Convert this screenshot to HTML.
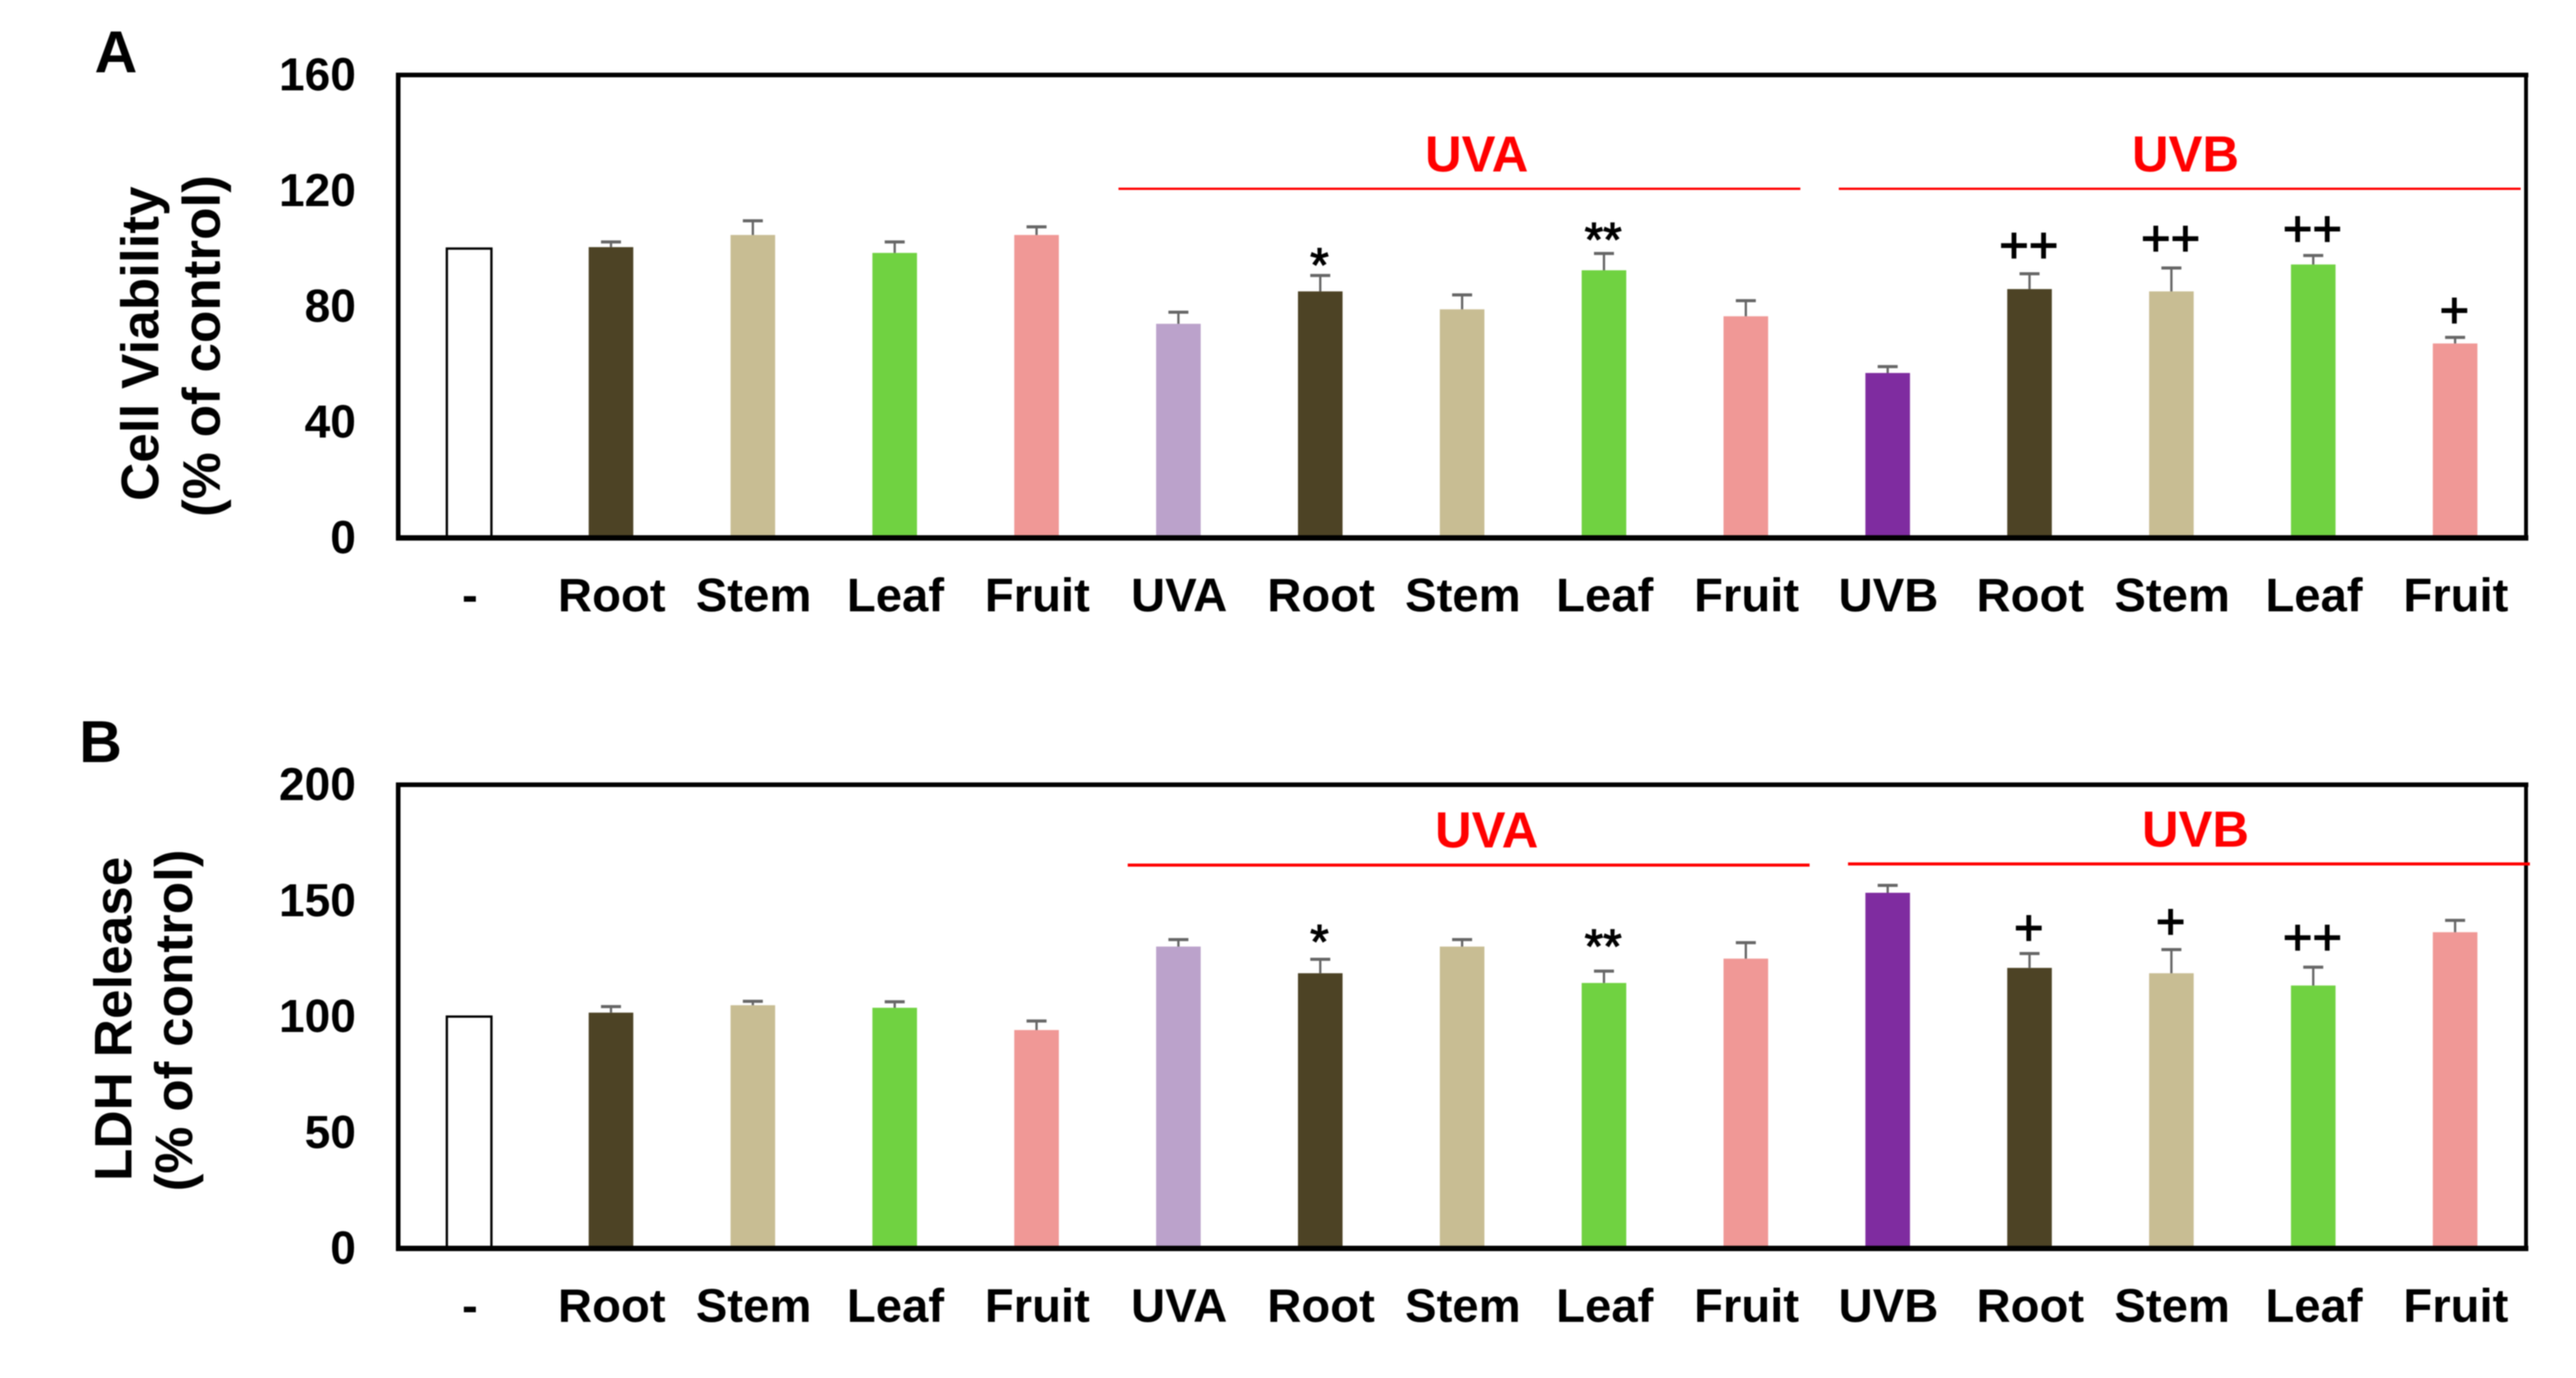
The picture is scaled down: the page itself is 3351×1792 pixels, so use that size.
<!DOCTYPE html>
<html lang="en">
<head>
<meta charset="utf-8">
<title>Cell Viability and LDH Release</title>
<style>
html,body{margin:0;padding:0;background:#fff;width:3351px;height:1792px;overflow:hidden}
svg{display:block;filter:blur(0.8px)}
text{font-family:"Liberation Sans",Arial,sans-serif;font-weight:700;fill:#000}
</style>
</head>
<body>
<svg id="figure" xmlns="http://www.w3.org/2000/svg" width="3351" height="1792" viewBox="0 0 3351 1792">
  <rect x="0" y="0" width="3351" height="1792" fill="#fff"/>
  <text x="123" y="94" font-size="77">A</text>
  <text x="103" y="991" font-size="77">B</text>
  <text transform="translate(206,447) rotate(-90)" text-anchor="middle" font-size="69">Cell Viability</text>
  <text transform="translate(286,450) rotate(-90)" text-anchor="middle" font-size="69">(% of control)</text>
  <text transform="translate(171,1325) rotate(-90)" text-anchor="middle" font-size="69">LDH Release</text>
  <text transform="translate(250,1327) rotate(-90)" text-anchor="middle" font-size="69">(% of control)</text>
  <g id="panel-a"></g>
  <g id="panel-b"></g>
</svg>
<script>
const categories = ['-', 'Root', 'Stem', 'Leaf', 'Fruit', 'UVA', 'Root', 'Stem', 'Leaf', 'Fruit', 'UVB', 'Root', 'Stem', 'Leaf', 'Fruit'];
const barColors = ['#ffffff', '#4d4325', '#c8bd93', '#70d241', '#f09896', '#bba2cb', '#4d4325', '#c8bd93', '#70d241', '#f09896', '#7f2ca0', '#4d4325', '#c8bd93', '#70d241', '#f09896'];

const viabilityTicks = [0, 40, 80, 120, 160];
const viabilityValues = [100, 100.5, 104.7, 98.5, 104.7, 74, 85.2, 79, 92.5, 76.6, 57, 86, 85.2, 94.5, 67.2];
const viabilityErrors = [0, 1.8, 4.9, 3.8, 2.8, 4, 5.5, 5, 5.8, 5.4, 2.2, 5.3, 8.1, 3.1, 2.1];
const viabilityMarks = ['', '', '', '', '', '', '*', '', '**', '', '', '++', '++', '++', '+'];
const viabilityMarkLevels = [0, 0, 0, 0, 0, 0, 98.2, 0, 107, 0, 0, 101.3, 103.7, 107, 78.8];

const ldhTicks = [0, 50, 100, 150, 200];
const ldhValues = [100, 101.7, 104.9, 103.8, 94.2, 130.2, 118.7, 130.2, 114.5, 125, 153.4, 121, 118.7, 113.4, 136.4];
const ldhErrors = [0, 2.6, 1.7, 2.6, 3.9, 3, 6, 3, 5.1, 6.9, 3.2, 6.2, 10.2, 7.9, 5.1];
const ldhMarks = ['', '', '', '', '', '', '*', '', '**', '', '', '+', '+', '++', ''];
const ldhMarkLevels = [0, 0, 0, 0, 0, 0, 137.2, 0, 135.2, 0, 0, 138.5, 141.2, 134.4, 0];

const SVG_NS = 'http://www.w3.org/2000/svg';
const plotLeft = 518;
const plotRight = 3286;
const barWidth = 58;
const capWidth = 26;

function xCenter(i) {
  return plotLeft + (i + 0.5) * (plotRight - plotLeft) / categories.length;
}

function make(parent, tag, attrs, content) {
  const el = document.createElementNS(SVG_NS, tag);
  for (const k in attrs) el.setAttribute(k, attrs[k]);
  if (content !== undefined) el.textContent = content;
  parent.appendChild(el);
  return el;
}

function drawPanel(root, cfg) {
  const yOf = v => cfg.yZero - (v / cfg.maxValue) * (cfg.yZero - cfg.yTop);

  cfg.ticks.forEach(t => {
    const el = make(root, 'text', { x: 463, y: yOf(t) - 1 + 21, 'text-anchor': 'end', 'font-size': 60 }, String(t));
    
    
  });

  cfg.values.forEach((v, i) => {
    const cx = xCenter(i);
    const top = yOf(v);
    const bar = make(root, 'rect', {
      x: cx - barWidth / 2, y: top, width: barWidth, height: cfg.yZero - top,
      fill: barColors[i], stroke: i === 0 ? '#000' : 'none', 'stroke-width': i === 0 ? 3 : 0
    });
    
    

    if (cfg.errors[i] > 0) {
      const errTop = yOf(v + cfg.errors[i]);
      const stem = make(root, 'line', { x1: cx, x2: cx, y1: top, y2: errTop, stroke: '#666', 'stroke-width': 3 });
      
      
      const cap = make(root, 'line', { x1: cx - capWidth / 2, x2: cx + capWidth / 2, y1: errTop, y2: errTop, stroke: '#666', 'stroke-width': 4 });
      
      
    }

    const label = make(root, 'text', { x: cx + 1, y: cfg.labelBaseline, 'text-anchor': 'middle', 'font-size': 61.5 }, categories[i]);
    
    

    if (cfg.marks[i]) {
      const isStar = cfg.marks[i].charAt(0) === '*';
      const shift = isStar ? 36 : 23;
      const mark = make(root, 'text', {
        x: cx - 1, y: yOf(cfg.markLevels[i]) + shift, 'text-anchor': 'middle',
        'font-size': isStar ? 62 : 66
      }, cfg.marks[i]);
      mark.style.fontWeight = '400';
      mark.style.stroke = '#000';
      mark.style.strokeWidth = '1.5px';
      
      
    }
  });

  const frameTop = make(root, 'line', { x1: plotLeft - 3, x2: plotRight + 3, y1: cfg.yTop, y2: cfg.yTop, stroke: '#000', 'stroke-width': 6 });
  
  
  const frameLeft = make(root, 'line', { x1: plotLeft, x2: plotLeft, y1: cfg.yTop, y2: cfg.yZero, stroke: '#000', 'stroke-width': 6 });
  
  
  const frameRight = make(root, 'line', { x1: plotRight, x2: plotRight, y1: cfg.yTop, y2: cfg.yZero, stroke: '#000', 'stroke-width': 5 });
  
  
  const frameBottom = make(root, 'line', { x1: plotLeft - 3, x2: plotRight + 3, y1: cfg.yZero, y2: cfg.yZero, stroke: '#000', 'stroke-width': 7 });
  
  

  const uvaLine = make(root, 'line', { x1: cfg.uvaLine[0], x2: cfg.uvaLine[1], y1: cfg.uvaLine[2], y2: cfg.uvaLine[2], stroke: '#f00', 'stroke-width': cfg.lineWidth });
  
  
  const uvbLine = make(root, 'line', { x1: cfg.uvbLine[0], x2: cfg.uvbLine[1], y1: cfg.uvbLine[2], y2: cfg.uvbLine[2], stroke: '#f00', 'stroke-width': cfg.lineWidth });
  
  

  const uvaText = make(root, 'text', { x: cfg.uvaText[0], y: cfg.uvaText[1], 'text-anchor': 'middle', 'font-size': 66 }, 'UVA');
  uvaText.style.fill = '#f00';
  
  
  const uvbText = make(root, 'text', { x: cfg.uvbText[0], y: cfg.uvbText[1], 'text-anchor': 'middle', 'font-size': 66 }, 'UVB');
  uvbText.style.fill = '#f00';
  
  
}

drawPanel(document.getElementById('panel-a'), {
  ticks: viabilityTicks, values: viabilityValues, errors: viabilityErrors,
  marks: viabilityMarks, markLevels: viabilityMarkLevels,
  maxValue: 160, yTop: 97.5, yZero: 699.5, labelBaseline: 795,
  uvaLine: [1455, 2342, 245.5], uvbLine: [2392, 3279, 245.5], lineWidth: 3,
  uvaText: [1921, 223], uvbText: [2843, 223]
});

drawPanel(document.getElementById('panel-b'), {
  ticks: ldhTicks, values: ldhValues, errors: ldhErrors,
  marks: ldhMarks, markLevels: ldhMarkLevels,
  maxValue: 200, yTop: 1020.5, yZero: 1623.5, labelBaseline: 1719,
  uvaLine: [1467, 2354, 1125], uvbLine: [2404, 3291, 1123.5], lineWidth: 4,
  uvaText: [1934, 1102], uvbText: [2856, 1101]
});
</script>
</body>
</html>
